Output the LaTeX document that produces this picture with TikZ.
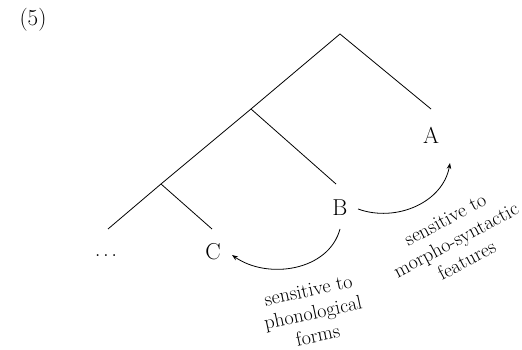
\documentclass[tikz,border=0pt]{standalone}
\usepackage{fontspec}
\setmainfont{Latin Modern Roman}
\usetikzlibrary{arrows.meta}
\begin{document}
\begin{tikzpicture}[x=1pt,y=1pt,
  branch/.style={line width=0.8pt},
  leaf/.style={font=\fontsize{23}{27}\selectfont, inner sep=0pt},
  note/.style={font=\fontsize{20}{23}\selectfont, align=center, inner sep=0pt},
  curvy/.style={line width=0.8pt, -{Stealth[length=6pt,width=4.5pt]}}]
\useasboundingbox (0,0) rectangle (522,350);
\node[leaf] (ex) at (33,330) {(5)};
\coordinate (root) at (340,316);
\coordinate (aend) at (431,241);
\coordinate (n1) at (251,241);
\coordinate (bend) at (336,166);
\coordinate (n2) at (161,166);
\coordinate (cend) at (212,121);
\coordinate (lend) at (108,121);
\draw[branch] (aend) -- (root) -- (n1) -- (n2) -- (lend);
\draw[branch] (n1) -- (bend);
\draw[branch] (n2) -- (cend);
\node[leaf] (A) at (431,215) {A};
\node[leaf] (B) at (340,142) {B};
\node[leaf] (C) at (213,98) {C};
\node[leaf] (dots) at (106,94) {.\kern0.11em.\kern0.11em.};
\coordinate (bs1) at (358,141);
\coordinate (ae) at (450,187);
\coordinate (bs2) at (340,121);
\coordinate (ce) at (232,95);
\draw[curvy] (bs1) to[out=-20,in=-100] (ae);
\draw[curvy] (bs2) to[out=-105,in=-35] (ce);
\node[note, rotate=12] (phon) at (313,37) {sensitive to\\phonological\\forms};
\node[note, rotate=28] (morph) at (456,110) {sensitive to\\morpho-syntactic\\features};
\end{tikzpicture}
\end{document}
